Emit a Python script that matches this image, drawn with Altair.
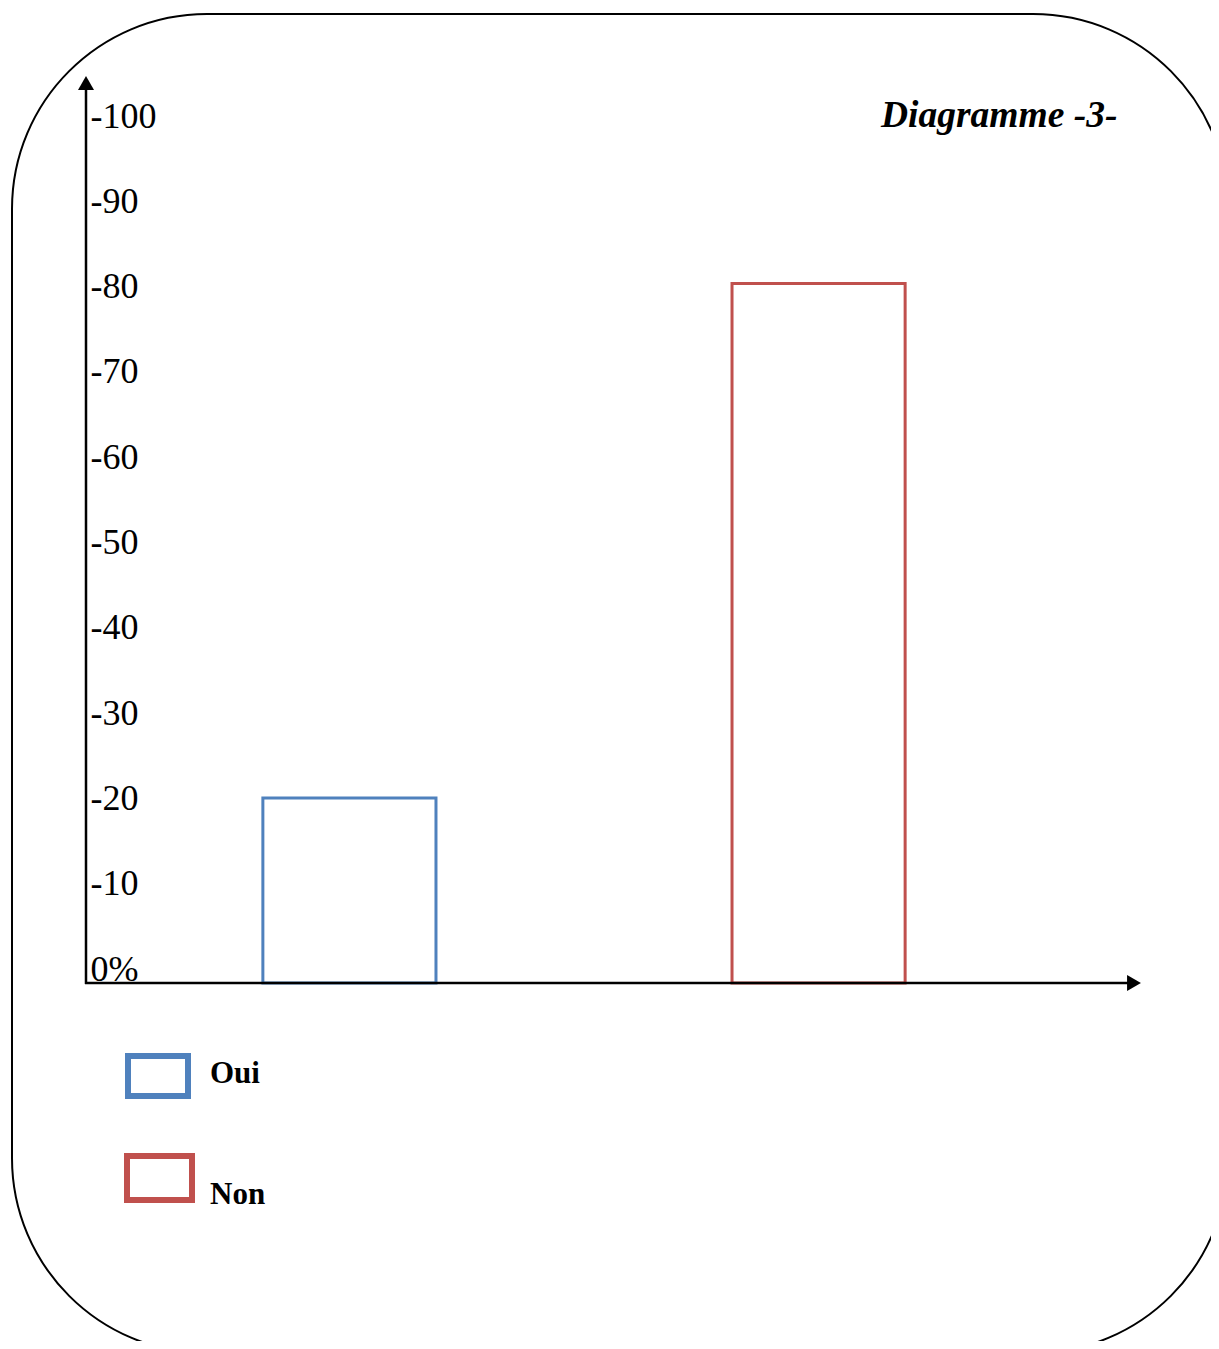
import altair as alt
import pandas as pd

# ---- data ----
categories = ["Oui", "Non"]
values = [21.7, 82.0]
colors = ["#4F81BD", "#C0504D"]
tick_values = [0, 10, 20, 30, 40, 50, 60, 70, 80, 90, 100]
title_text = "Diagramme -3-"

df = pd.DataFrame({"cat": categories, "val": values})
one = pd.DataFrame({"a": [0]})

SERIF = "Liberation Serif"

x_scale = alt.Scale(domain=categories, paddingInner=0.631, paddingOuter=0.377)
y_scale = alt.Scale(domain=[0, 100], nice=False, zero=True)
color_scale = alt.Scale(domain=categories, range=colors)

y_axis = alt.Axis(
    values=tick_values,
    labelExpr="datum.value == 0 ? '0%' : '-' + datum.label",
    domain=False, ticks=False, tickSize=0, grid=False,
    labelAlign="left", labelPadding=-4, labelBaseline="alphabetic",
    labelFont=SERIF, labelFontSize=36, labelColor="black",
    labelOffset=-3, labelFlush=False, labelOverlap=False, title=None,
)

bars = alt.Chart(df).mark_bar(filled=False, strokeWidth=3).encode(
    x=alt.X("cat:N", scale=x_scale, axis=None, sort=categories),
    y=alt.Y("val:Q", scale=y_scale, axis=y_axis),
    stroke=alt.Stroke("cat:N", scale=color_scale, legend=None),
)

# rounded frame
frame = alt.Chart(one).mark_rect(
    filled=False, stroke="black", strokeWidth=2, cornerRadius=195
).encode(
    x=alt.value(12 - 86), x2=alt.value(1228 - 86),
    y=alt.value(14 - 130), y2=alt.value(1353 - 130),
)

# axes lines with arrows
y_line = alt.Chart(one).mark_rule(color="black", strokeWidth=2.5).encode(
    x=alt.value(0), y=alt.value(-44), y2=alt.value(854)
)
x_line = alt.Chart(one).mark_rule(color="black", strokeWidth=2.5).encode(
    x=alt.value(-1), x2=alt.value(1045), y=alt.value(853)
)
y_arrow = alt.Chart(one).mark_point(
    shape="triangle-up", filled=True, color="black", size=256, opacity=1
).encode(x=alt.value(0), y=alt.value(-47))
x_arrow = alt.Chart(one).mark_point(
    shape="triangle-right", filled=True, color="black", size=256, opacity=1
).encode(x=alt.value(1048), y=alt.value(853))

title = alt.Chart(one).mark_text(
    align="left", baseline="alphabetic", font=SERIF, fontSize=37.5,
    fontWeight="bold", fontStyle="italic", color="black"
).encode(x=alt.value(795), y=alt.value(-3), text=alt.value(title_text))

# legend
leg_layers = []
leg_boxes = [(42, 102, 926, 966), (41, 106, 1026, 1070)]
leg_text_y = [953, 1074]
for i, c in enumerate(categories):
    x0, x1, y0, y1 = leg_boxes[i]
    sub = alt.Chart(df).transform_filter(alt.datum.cat == c)
    leg_layers.append(
        sub.mark_rect(filled=False, strokeWidth=6).encode(
            x=alt.value(x0), x2=alt.value(x1), y=alt.value(y0), y2=alt.value(y1),
            stroke=alt.Stroke("cat:N", scale=color_scale, legend=None),
        )
    )
    leg_layers.append(
        sub.mark_text(
            align="left", baseline="alphabetic", font=SERIF, fontSize=31,
            fontWeight="bold", color="black"
        ).encode(x=alt.value(124), y=alt.value(leg_text_y[i]), text="cat:N")
    )

chart = alt.layer(
    frame, bars, y_line, x_line, y_arrow, x_arrow, title, *leg_layers
).properties(
    width=996, height=853,
    padding={"left": 78, "top": 122, "right": 129, "bottom": 358},
    autosize=alt.AutoSizeParams(type="none"),
).configure_view(stroke=None)

chart.save("out.html", embed_options={"renderer": "svg", "actions": False})
